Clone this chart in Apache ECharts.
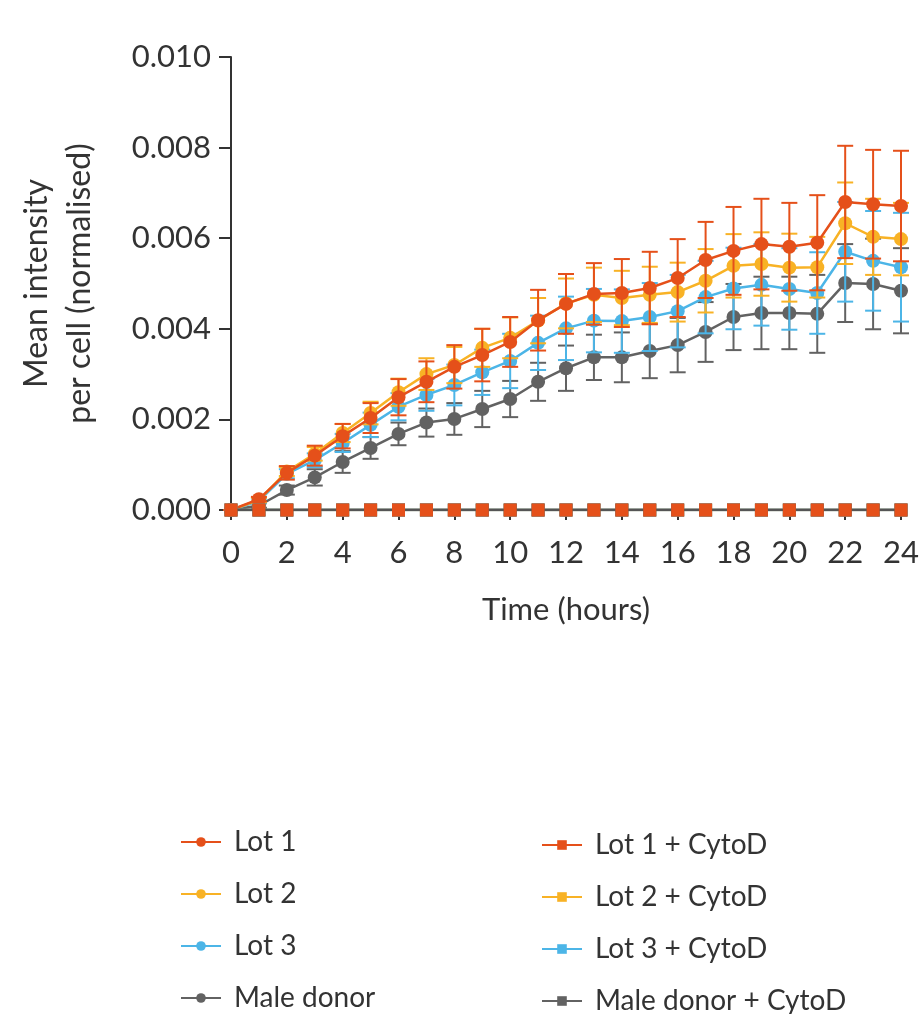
<!DOCTYPE html>
<html>
<head>
<meta charset="utf-8">
<script src="https://cdn.jsdelivr.net/npm/echarts@6/dist/echarts.min.js"></script>
<style>
  html, body { margin: 0; padding: 0; background: #fff; }
  #chart { width: 922px; height: 1014px; }
</style>
</head>
<body>
<div id="chart"></div>
<script>
// time points (hours)
var hours = [0, 1, 2, 3, 4, 5, 6, 7, 8, 9, 10, 11, 12, 13, 14, 15, 16, 17, 18, 19, 20, 21, 22, 23, 24];

// means
var lot1 = [0, 0.00024, 0.00082, 0.00120, 0.00163, 0.00203, 0.00249, 0.00283, 0.00316, 0.00342, 0.00371, 0.00419, 0.00455, 0.00477, 0.00479, 0.00490, 0.00512, 0.00552, 0.00572, 0.00587, 0.00581, 0.00590, 0.00680, 0.00675, 0.00671];
var lot2 = [0, 0.00022, 0.00085, 0.00124, 0.00170, 0.00214, 0.00260, 0.00300, 0.00320, 0.00358, 0.00380, 0.00418, 0.00456, 0.00475, 0.00468, 0.00475, 0.00481, 0.00506, 0.00539, 0.00543, 0.00535, 0.00536, 0.00633, 0.00603, 0.00598];
var lot3 = [0, 0.00020, 0.00080, 0.00110, 0.00148, 0.00188, 0.00228, 0.00254, 0.00276, 0.00304, 0.00329, 0.00369, 0.00401, 0.00418, 0.00417, 0.00426, 0.00439, 0.00470, 0.00489, 0.00497, 0.00488, 0.00479, 0.00570, 0.00550, 0.00536];
var male = [0, 0.00010, 0.00044, 0.00072, 0.00106, 0.00137, 0.00168, 0.00193, 0.00201, 0.00223, 0.00245, 0.00283, 0.00313, 0.00337, 0.00337, 0.00351, 0.00364, 0.00393, 0.00426, 0.00435, 0.00435, 0.00433, 0.00501, 0.00499, 0.00484];

// error (SD)
var lot1Err = [0, 0.00005, 0.00015, 0.00022, 0.00027, 0.00033, 0.00040, 0.00045, 0.00048, 0.00058, 0.00055, 0.00067, 0.00066, 0.00068, 0.00075, 0.00080, 0.00086, 0.00084, 0.00097, 0.00100, 0.00097, 0.00105, 0.00124, 0.00120, 0.00122];
var lot2Err = [0, 0.00005, 0.00010, 0.00015, 0.00020, 0.00025, 0.00030, 0.00035, 0.00040, 0.00042, 0.00045, 0.00050, 0.00055, 0.00060, 0.00060, 0.00062, 0.00065, 0.00070, 0.00070, 0.00070, 0.00075, 0.00067, 0.00090, 0.00084, 0.00080];
var lot3Err = [0, 0.00005, 0.00010, 0.00015, 0.00020, 0.00027, 0.00030, 0.00035, 0.00045, 0.00050, 0.00060, 0.00060, 0.00070, 0.00070, 0.00070, 0.00075, 0.00080, 0.00080, 0.00090, 0.00090, 0.00090, 0.00090, 0.00110, 0.00110, 0.00120];
var maleErr = [0, 0.00005, 0.00010, 0.00018, 0.00024, 0.00024, 0.00025, 0.00031, 0.00035, 0.00040, 0.00040, 0.00042, 0.00050, 0.00050, 0.00055, 0.00060, 0.00060, 0.00066, 0.00073, 0.00080, 0.00080, 0.00086, 0.00086, 0.00100, 0.00094];

// + CytoD (flat at zero)
var lot1Cytod = [0, 0, 0, 0, 0, 0, 0, 0, 0, 0, 0, 0, 0, 0, 0, 0, 0, 0, 0, 0, 0, 0, 0, 0, 0];
var lot2Cytod = [0, 0, 0, 0, 0, 0, 0, 0, 0, 0, 0, 0, 0, 0, 0, 0, 0, 0, 0, 0, 0, 0, 0, 0, 0];
var lot3Cytod = [0, 0, 0, 0, 0, 0, 0, 0, 0, 0, 0, 0, 0, 0, 0, 0, 0, 0, 0, 0, 0, 0, 0, 0, 0];
var maleCytod = [0, 0, 0, 0, 0, 0, 0, 0, 0, 0, 0, 0, 0, 0, 0, 0, 0, 0, 0, 0, 0, 0, 0, 0, 0];

var yTicks = [0, 0.002, 0.004, 0.006, 0.008, 0.010];
var xTicks = [0, 2, 4, 6, 8, 10, 12, 14, 16, 18, 20, 22, 24];

var RED = "#e5501a";
var YELLOW = "#f8b225";
var BLUE = "#4cb5e7";
var GREY = "#626262";
var INK = "#333333";
var FONT = "Lato, 'Noto Sans', sans-serif";

function pairs(ys) {
  return hours.map(function (h, i) { return [h, ys[i]]; });
}

function errData(ys, errs) {
  return hours.map(function (h, i) { return [h, ys[i] - errs[i], ys[i] + errs[i]]; });
}

// error bars drawn through the axis scales
function errSeries(name, ys, errs, color, z) {
  return {
    name: name + " SD",
    type: "custom",
    z: z,
    silent: true,
    data: errData(ys, errs),
    renderItem: function (params, api) {
      var lo = api.coord([api.value(0), api.value(1)]);
      var hi = api.coord([api.value(0), api.value(2)]);
      var w = 8;
      var style = { stroke: color, lineWidth: 2 };
      return {
        type: "group",
        children: [
          { type: "line", shape: { x1: hi[0], y1: hi[1], x2: lo[0], y2: lo[1] }, style: style },
          { type: "line", shape: { x1: hi[0] - w, y1: hi[1], x2: hi[0] + w, y2: hi[1] }, style: style },
          { type: "line", shape: { x1: lo[0] - w, y1: lo[1], x2: lo[0] + w, y2: lo[1] }, style: style }
        ]
      };
    }
  };
}

function lineSeries(name, ys, color, symbol, z, lineColor) {
  return {
    name: name,
    type: "line",
    z: z,
    data: pairs(ys),
    symbol: symbol,
    symbolSize: symbol === "rect" ? 13 : 14,
    itemStyle: { color: color },
    lineStyle: { color: lineColor || color, width: 2.5 },
    emphasis: { disabled: true }
  };
}

var chart = echarts.init(document.getElementById("chart"));

var legendText = { fontSize: 28, color: INK, fontFamily: FONT, padding: [0, 0, 0, 8] };

chart.setOption({
  animation: false,
  textStyle: { fontFamily: FONT },
  grid: { left: 231, right: 19, top: 57, bottom: 504, containLabel: false },
  legend: [
    {
      left: 175,
      top: 823,
      height: 260,
      orient: "vertical",
      itemWidth: 40,
      itemHeight: 12,
      itemGap: 24,
      textStyle: legendText,
      data: ["Lot 1", "Lot 2", "Lot 3", "Male donor"]
    },
    {
      left: 536,
      top: 826,
      height: 260,
      orient: "vertical",
      itemWidth: 40,
      itemHeight: 12,
      itemGap: 24,
      textStyle: legendText,
      data: [
        { name: "Lot 1 + CytoD", lineStyle: { color: RED } },
        "Lot 2 + CytoD",
        "Lot 3 + CytoD",
        "Male donor + CytoD"
      ]
    }
  ],
  xAxis: {
    type: "value",
    min: 0,
    max: 24,
    interval: 2,
    name: "Time (hours)",
    nameLocation: "middle",
    nameGap: 84,
    nameTextStyle: { fontSize: 31, color: INK, fontFamily: FONT },
    splitLine: { show: false },
    axisLine: { lineStyle: { color: INK, width: 2 } },
    axisTick: { length: 10, lineStyle: { color: INK, width: 2 } },
    axisLabel: {
      fontSize: 31,
      color: INK,
      margin: 27,
      customValues: xTicks
    }
  },
  yAxis: {
    type: "value",
    min: 0,
    max: 0.010,
    interval: 0.002,
    name: "Mean intensity\nper cell (normalised)",
    nameLocation: "middle",
    nameRotate: 90,
    nameGap: 130,
    nameTextStyle: { fontSize: 32, color: INK, fontFamily: FONT, lineHeight: 43 },
    splitLine: { show: false },
    axisLine: { show: true, lineStyle: { color: INK, width: 2 } },
    axisTick: { show: true, length: 12, lineStyle: { color: INK, width: 2 } },
    axisLabel: {
      fontSize: 31,
      color: INK,
      margin: 20,
      customValues: yTicks,
      formatter: function (v) { return v.toFixed(3); }
    }
  },
  series: [
    errSeries("Male donor", male, maleErr, GREY, 3),
    lineSeries("Male donor", male, GREY, "circle", 3),
    errSeries("Lot 3", lot3, lot3Err, BLUE, 4),
    lineSeries("Lot 3", lot3, BLUE, "circle", 4),
    errSeries("Lot 2", lot2, lot2Err, YELLOW, 5),
    lineSeries("Lot 2", lot2, YELLOW, "circle", 5),
    errSeries("Lot 1", lot1, lot1Err, RED, 6),
    lineSeries("Lot 1", lot1, RED, "circle", 6),
    lineSeries("Lot 2 + CytoD", lot2Cytod, YELLOW, "rect", 7),
    lineSeries("Lot 3 + CytoD", lot3Cytod, BLUE, "rect", 7),
    lineSeries("Male donor + CytoD", maleCytod, GREY, "rect", 7),
    lineSeries("Lot 1 + CytoD", lot1Cytod, RED, "rect", 8, "#555555")
  ]
});
</script>
</body>
</html>
